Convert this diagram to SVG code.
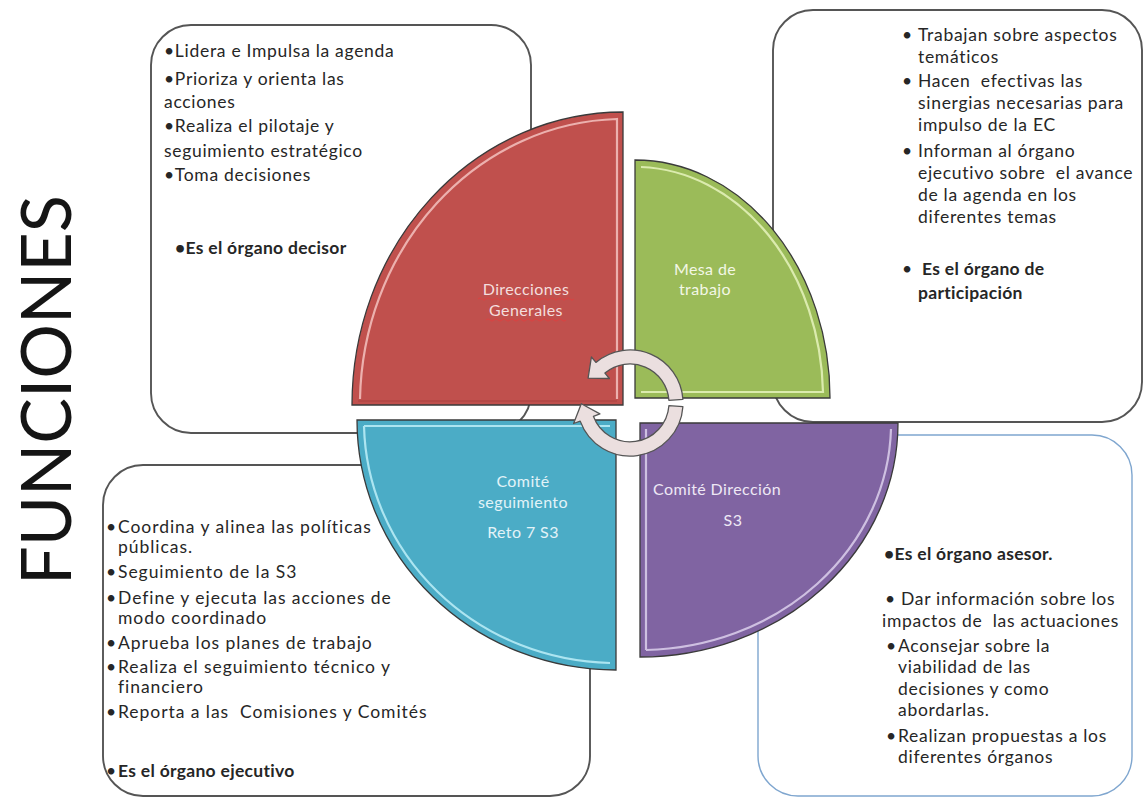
<svg xmlns="http://www.w3.org/2000/svg" width="1146" height="800" viewBox="0 0 1146 800">
<style>
.box{fill:#ffffff;stroke:#555555;stroke-width:1.9}
.boxb{fill:#ffffff;stroke:#7fa6cf;stroke-width:1.4}
.t{font-family:Lato,"Open Sans","Liberation Sans",sans-serif;font-size:17.5px;letter-spacing:0.7px;fill:#262626}
.w{letter-spacing:0.95px}
.b{font-weight:bold;letter-spacing:0.3px}
.lbl{font-family:Lato,"Open Sans","Liberation Sans",sans-serif;font-size:16px;letter-spacing:0.4px;text-anchor:middle}
.edge{stroke:#3a3a3a;stroke-width:1.3}
.hl{fill:none;stroke-width:2.2;opacity:0.85}
.arr{fill:#ebdfdf;stroke:#555555;stroke-width:1.3;stroke-linejoin:round}
.wave{fill:none;stroke:#e04040;stroke-width:0.9}
.pre{white-space:pre}
</style>
<rect width="1146" height="800" fill="#ffffff"/>

<text x="71" y="390" transform="rotate(-90 71 390)" text-anchor="middle" font-family="Lato,'Open Sans','Liberation Sans',sans-serif" font-size="70" font-weight="400" fill="#151515" textLength="390" lengthAdjust="spacingAndGlyphs">FUNCIONES</text>

<g id="box-direcciones">
<rect class="box" x="151" y="25" width="380" height="408" rx="40" ry="40"/>
<text class="t" x="164" y="57">•Lidera e Impulsa la agenda</text>
<text class="t" x="164" y="85">•Prioriza y orienta las</text>
<text class="t" x="164" y="108">acciones</text>
<text class="t" x="164" y="132">•Realiza el pilotaje y</text>
<text class="t" x="164" y="157">seguimiento estratégico</text>
<text class="t" x="164" y="181">•Toma decisiones</text>
<text class="t b" x="175" y="254">•Es el órgano decisor</text>
</g>

<g id="box-mesa">
<rect class="box" x="773" y="10" width="369" height="412" rx="40" ry="40"/>
<text class="t" x="902" y="41">•</text>
<text class="t" x="918" y="41">Trabajan sobre aspectos</text>
<text class="t" x="918" y="63">temáticos</text>
<text class="t" x="902" y="87">•</text>
<text class="t pre" x="918" y="87">Hacen  efectivas las</text>
<text class="t" x="918" y="109">sinergias necesarias para</text>
<text class="t" x="918" y="131">impulso de la EC</text>
<text class="t" x="902" y="157">•</text>
<text class="t" x="918" y="157">Informan al órgano</text>
<text class="t pre" x="918" y="179">ejecutivo sobre  el avance</text>
<text class="t" x="918" y="201">de la agenda en los</text>
<text class="t" x="918" y="223">diferentes temas</text>
<text class="t" x="902" y="275">•</text>
<text class="t b" x="922" y="275">Es el órgano de</text>
<text class="t b" x="918" y="299">participación</text>
</g>

<g id="box-comite-seguimiento">
<rect class="box" x="103" y="465" width="487" height="331" rx="40" ry="40"/>
<text class="t" x="106" y="533">•</text>
<text class="t w" x="118" y="533">Coordina y alinea las políticas</text>
<text class="t w" x="118" y="553">públicas.</text>
<text class="t" x="106" y="578">•</text>
<text class="t w" x="118" y="578">Seguimiento de la S3</text>
<text class="t" x="106" y="604">•</text>
<text class="t w" x="118" y="604">Define y ejecuta las acciones de</text>
<text class="t w" x="118" y="624">modo coordinado</text>
<text class="t" x="106" y="649">•</text>
<text class="t w" x="118" y="649">Aprueba los planes de trabajo</text>
<text class="t" x="106" y="673">•</text>
<text class="t w" x="118" y="673">Realiza el seguimiento técnico y</text>
<text class="t w" x="118" y="693">financiero</text>
<text class="t" x="106" y="718">•</text>
<text class="t w pre" x="118" y="718">Reporta a las  Comisiones y Comités</text>
<text class="t" x="106" y="777">•</text>
<text class="t b" x="118" y="777">Es el órgano ejecutivo</text>
</g>

<g id="box-comite-direccion">
<rect class="boxb" x="758" y="435" width="374" height="361" rx="40" ry="40"/>
<text class="t b" x="884" y="560">•Es el órgano asesor.</text>
<text class="t" x="885" y="605">• Dar información sobre los</text>
<text class="t pre" x="882" y="627">impactos de  las actuaciones</text>
<text class="t" x="886" y="652">•</text>
<text class="t" x="898" y="652">Aconsejar sobre la</text>
<text class="t" x="898" y="673">viabilidad de las</text>
<text class="t" x="898" y="695">decisiones y como</text>
<text class="t" x="898" y="716">abordarlas.</text>
<text class="t" x="886" y="742">•</text>
<text class="t" x="898" y="742">Realizan propuestas a los</text>
<text class="t" x="898" y="763">diferentes órganos</text>
</g>

<g id="node-direcciones">
<path class="edge" fill="#c0504d" d="M623,112 L623,405 L352,405 A271,293 0 0 1 623,112 Z"/>
<path class="hl" stroke="#f3c2c0" d="M360,399 A264,286 0 0 1 617,119 L617,399"/>
<path fill="none" stroke="#9e3a38" stroke-width="1.2" opacity="0.6" d="M358,401 L617,401"/>
<text class="lbl" x="526" y="295" fill="#f4dedd">Direcciones</text>
<text class="lbl" x="526" y="316" fill="#f4dedd">Generales</text>
<path class="wave" d="M478,299 q2,-2.4 4,0 t4,0 t4,0 t4,0 t4,0 t4,0 t4,0 t4,0 t4,0 t4,0 t4,0 t4,0 t4,0 t4,0 t4,0 t4,0 t4,0 t4,0 t4,0 t4,0 t4,0 t4,0 t4,0 t4,0"/>
<path class="wave" d="M486,320 q2,-2.4 4,0 t4,0 t4,0 t4,0 t4,0 t4,0 t4,0 t4,0 t4,0 t4,0 t4,0 t4,0 t4,0 t4,0 t4,0 t4,0 t4,0 t4,0 t4,0 t4,0"/>
</g>

<g id="node-mesa">
<path class="edge" fill="#9bbb59" d="M635,160 A195,238 0 0 1 830,398 L635,398 Z"/>
<path class="hl" stroke="#e6f3bd" d="M641,167 A188,231 0 0 1 823,392 L641,392"/>
<text class="lbl" x="705" y="275" fill="#f3f7e6">Mesa de</text>
<text class="lbl" x="705" y="295" fill="#f3f7e6">trabajo</text>
</g>

<g id="node-comite-direccion">
<path class="edge" fill="#8064a2" d="M898,423 A258,234 0 0 1 640,657 L640,423 Z"/>
<path class="hl" stroke="#dcd0ec" d="M646,429 L646,650 M891,429 A251,227 0 0 1 646,650"/>
<text class="lbl" x="717" y="495" fill="#eee8f5">Comité Dirección</text>
<text class="lbl" x="733" y="526" fill="#eee8f5">S3</text>
</g>

<g id="node-comite-seguimiento">
<path class="edge" fill="#4bacc6" d="M616,670 A259,250 0 0 1 357,420 L616,420 Z"/>
<path class="hl" stroke="#bdeef8" d="M364,426 L610,426 M364,426 A252,243 0 0 0 610,663"/>
<text class="lbl" x="523" y="487" fill="#e2f3f8">Comité</text>
<text class="lbl" x="523" y="508" fill="#e2f3f8">seguimiento</text>
<text class="lbl" x="523" y="538" fill="#e2f3f8">Reto 7 S3</text>
</g>

<g id="connectors">
<path class="arr" d="M682.9,399.3 A53,53 0 0 0 595.9,362.4 L591.4,357 L588.1,378.1 L609.4,378.5 L604.9,373.1 A39,39 0 0 1 668.9,400.3 Z"/>
<path class="arr" d="M682.9,406.7 A53,53 0 0 1 580.2,421.1 L573.6,423.5 L581.3,403.7 L599.9,413.9 L593.4,416.3 A39,39 0 0 0 668.9,405.7 Z"/>
</g>
</svg>
